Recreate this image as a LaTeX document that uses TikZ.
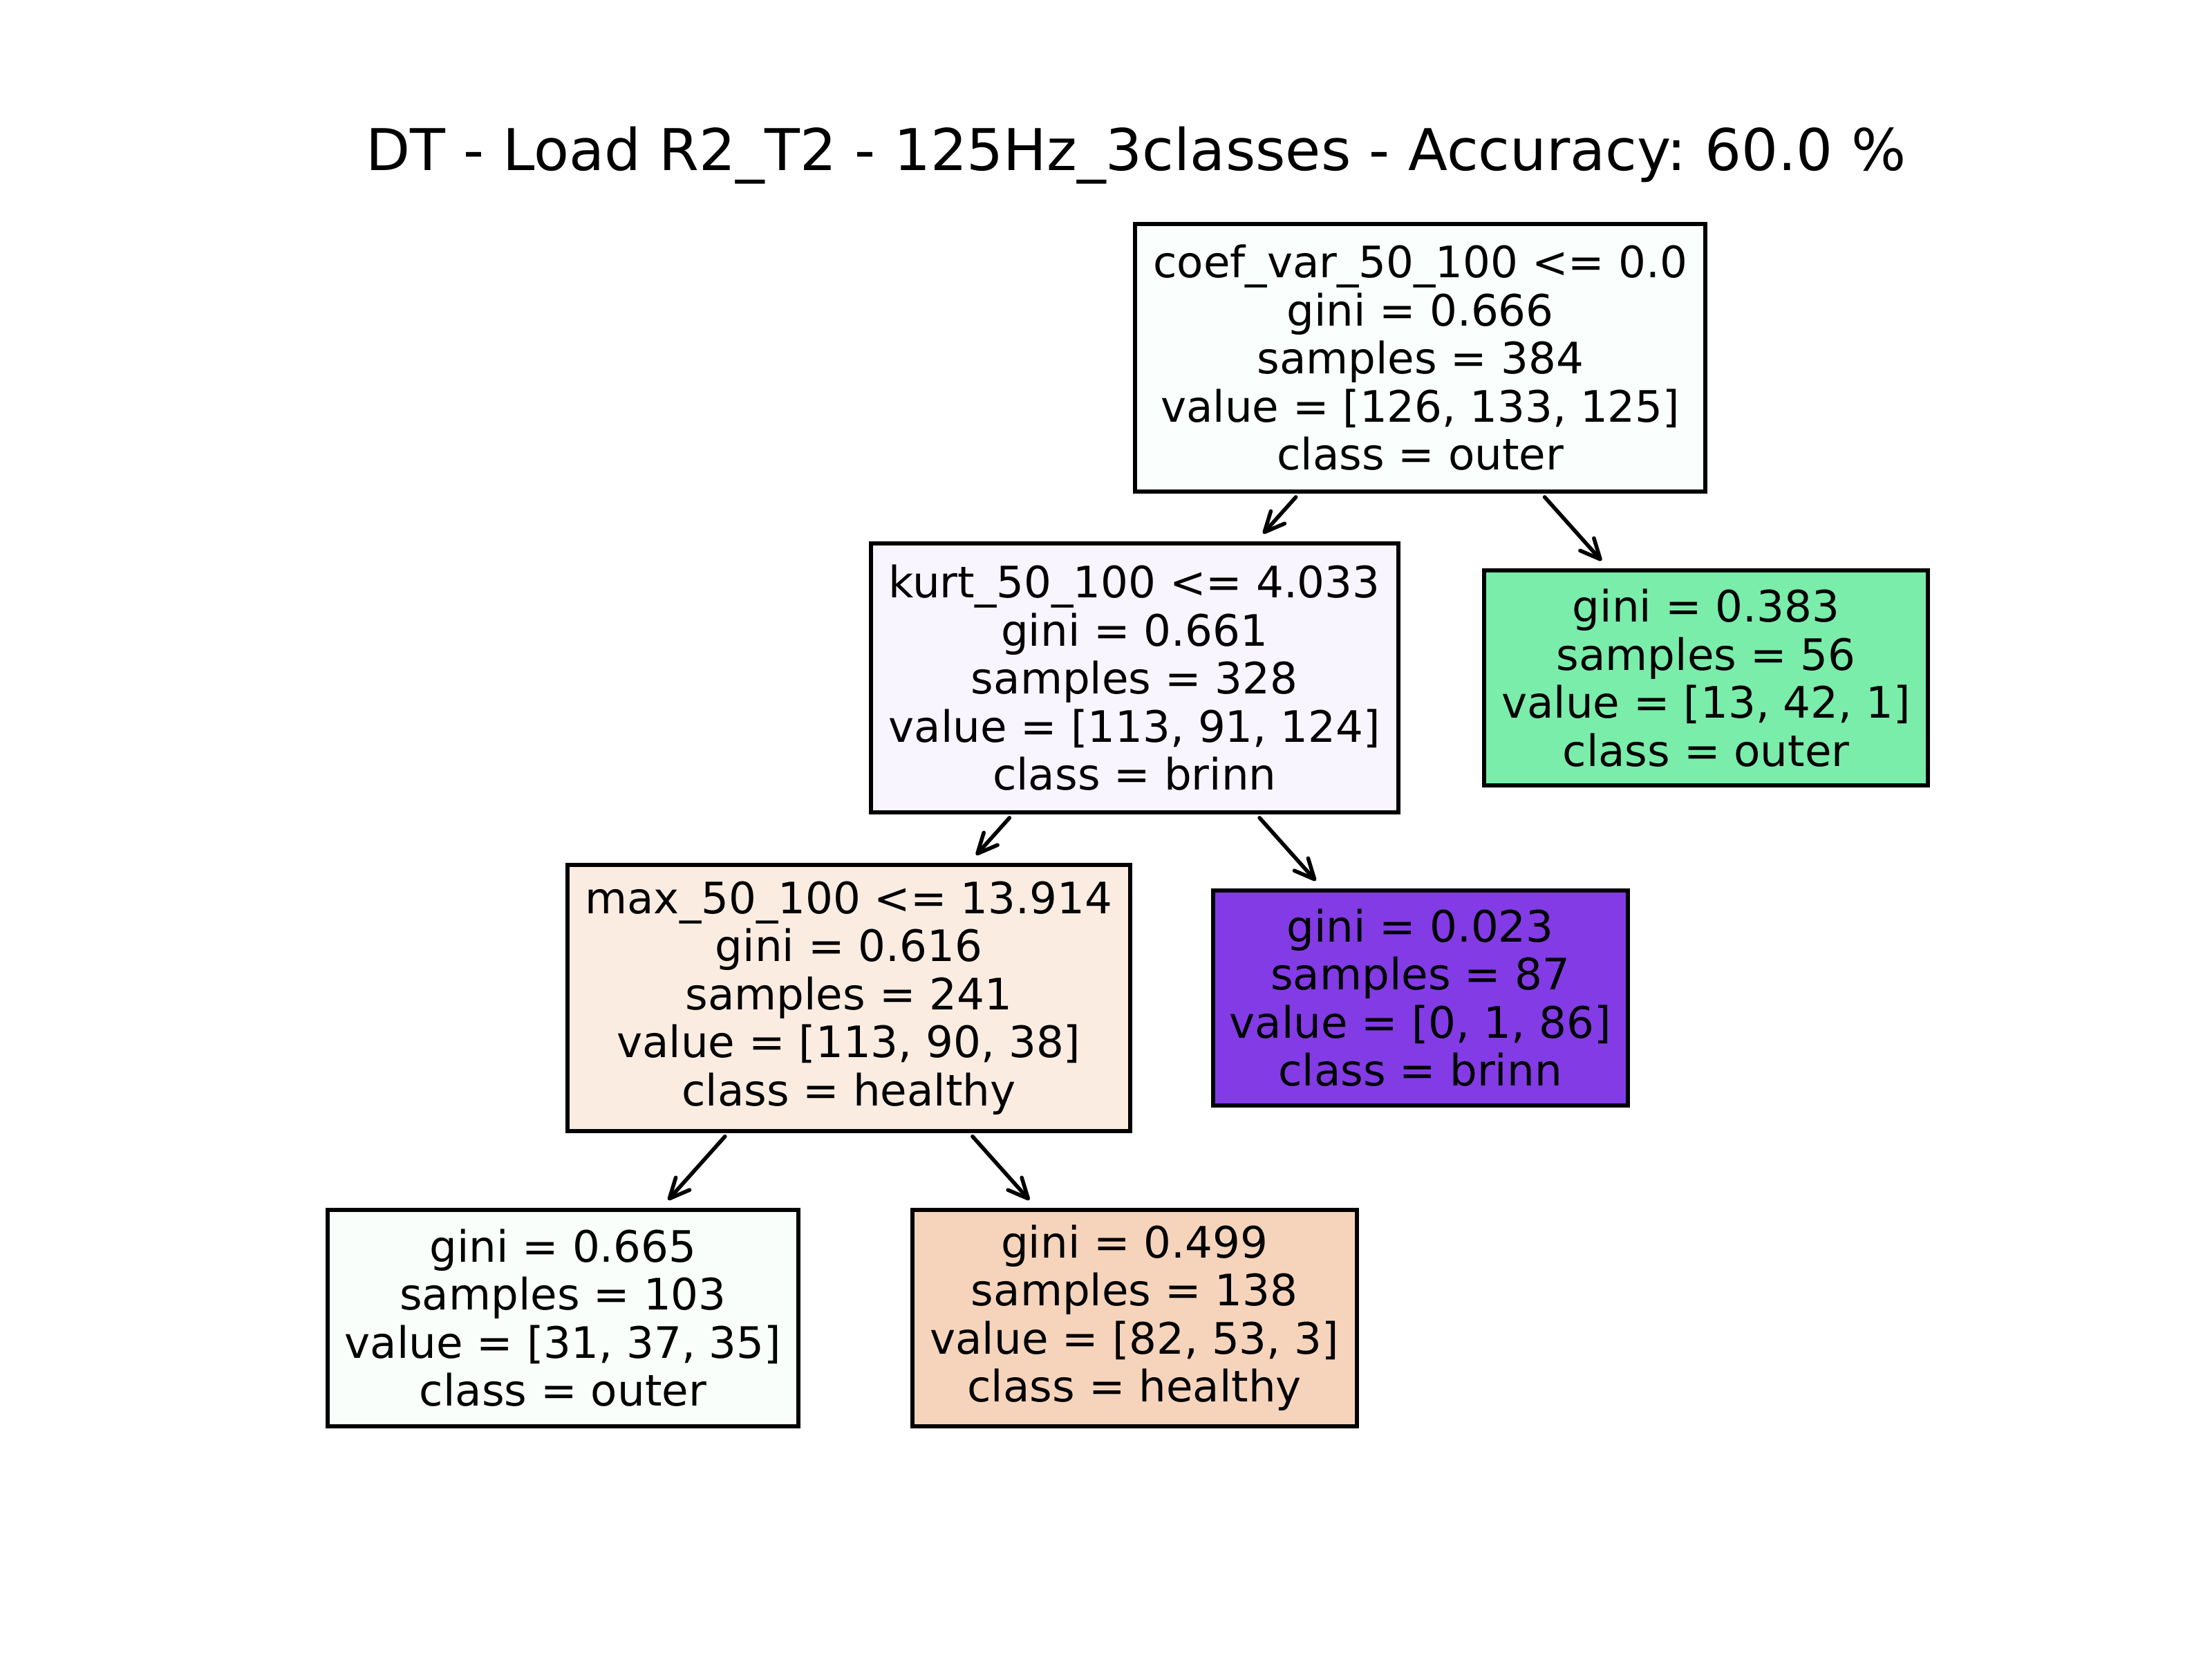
\documentclass[tikz,border=0pt]{standalone}
\usepackage{fontspec}
\setmainfont{DejaVu Sans}
\usetikzlibrary{arrows.meta}
\frenchspacing
\definecolor{cRoot}{RGB}{250,254,252}
\definecolor{cKurt}{RGB}{249,245,254}
\definecolor{cOuterA}{RGB}{122,237,170}
\definecolor{cMax}{RGB}{251,236,225}
\definecolor{cBrinn}{RGB}{131,59,229}
\definecolor{cOuterB}{RGB}{249,254,251}
\definecolor{cHealthy}{RGB}{246,212,188}
\begin{document}
\begin{tikzpicture}[x=0.5pt,y=-0.5pt,
  box/.style={draw=black, line width=1.45pt, rectangle, inner sep=0pt, align=center,
    font=\fontsize{15.2}{16.85}\selectfont},
  edge/.style={line width=1.35pt, line cap=round, line join=round,
    -{Straight Barb[length=7pt,width=6.5pt,line cap=round,line join=round]},
    shorten <=1.5pt, shorten >=3.5pt}]
\useasboundingbox (0,0) rectangle (1552,1164);
\node[font=\fontsize{20.2}{24}\selectfont, anchor=base] (title) at (797,119.5)
  {DT - Load R2\_T2 - 125Hz\_3classes - Accuracy: 60.0 \%};
\node[box, fill=cRoot, minimum width=200pt, minimum height=94pt] (root) at (996.5,251)
  {coef\_var\_50\_100 <= 0.0\\gini = 0.666\\samples = 384\\value = [126, 133, 125]\\class = outer};
\node[box, fill=cKurt, minimum width=185pt, minimum height=94.5pt] (kurt) at (796,475.5)
  {kurt\_50\_100 <= 4.033\\gini = 0.661\\samples = 328\\value = [113, 91, 124]\\class = brinn};
\node[box, fill=cOuterA, minimum width=155.5pt, minimum height=75.5pt] (leafA) at (1197,475.5)
  {gini = 0.383\\samples = 56\\value = [13, 42, 1]\\class = outer};
\node[box, fill=cMax, minimum width=197.5pt, minimum height=93.5pt] (max) at (595.5,700)
  {max\_50\_100 <= 13.914\\gini = 0.616\\samples = 241\\value = [113, 90, 38]\\class = healthy};
\node[box, fill=cBrinn, minimum width=145.5pt, minimum height=75.5pt] (leafB) at (996.5,700)
  {gini = 0.023\\samples = 87\\value = [0, 1, 86]\\class = brinn};
\node[box, fill=cOuterB, minimum width=165pt, minimum height=76pt] (leafC) at (395,924.5)
  {gini = 0.665\\samples = 103\\value = [31, 37, 35]\\class = outer};
\node[box, fill=cHealthy, minimum width=156pt, minimum height=76pt] (leafD) at (796,924.5)
  {gini = 0.499\\samples = 138\\value = [82, 53, 3]\\class = healthy};
\draw[edge] (root) -- (kurt);
\draw[edge] (root) -- (leafA);
\draw[edge] (kurt) -- (max);
\draw[edge] (kurt) -- (leafB);
\draw[edge] (max) -- (leafC);
\draw[edge] (max) -- (leafD);
\end{tikzpicture}
\end{document}
